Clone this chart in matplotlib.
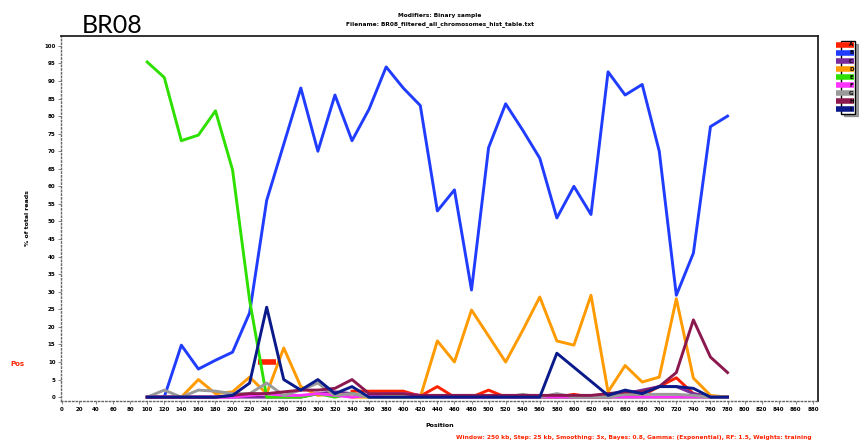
import numpy as np
import matplotlib
matplotlib.use("Agg")
import matplotlib.pyplot as plt

# bin start positions and per-bin share (%) for each track
positions = np.arange(100, 800, 20)

red = [np.nan, np.nan, np.nan, np.nan, np.nan, np.nan, np.nan, 10, np.nan, np.nan,
       np.nan, np.nan, 1.7, 1.7, 1.7, 1.7, 0.3, 3, 0, 0,
       2, 0, 0, 0, 0, 0.8, 0, 0, 0.5, 0.5,
       3, 5.5, 1, 0, 0]
blue = [0, 0, 14.8, 8, 10.5, 12.8, 24, 56, 72, 88,
        70, 86, 73, 82, 94, 88, 83, 53, 59, 30.5,
        71, 83.5, 76, 68, 51, 60, 52, 92.6, 86, 89,
        70, 29, 41, 77, 80]
purple = [0, 0, 0, 0, 0, 0, 0, 0, 0, 0,
          1, 1.5, 1, 0, 0, 0, 0, 0, 0, 0,
          0, 0, 0, 0, 0, 0, 0, 0, 1, 2,
          3, 3, 1, 0, 0]
orange = [0, 0, 0, 5, 1, 1.5, 5.7, 1, 14, 3,
          0.5, 1, 0, 0, 0, 0, 0, 16, 10, 24.8,
          17.4, 10, 19, 28.5, 16, 14.8, 29, 1.5, 9, 4.3,
          5.7, 28, 5.4, 0.5, 0]
green = [95.4, 91, 73, 74.6, 81.5, 64.7, 27.6, 0, 0, 0,
         1, 0, 1, 0, 0, 0, 0, 0, 0, 0,
         0, 0, 0, 0, 0, 0, 0, 0, 0, 0,
         0, 0, 0, 0, 0]
magenta = [0, 0, 0, 0, 0, 0, 0.5, 1, 0.5, 0.5,
           1, 0.5, 0, 0.5, 1, 1, 0.5, 0, 0, 0,
           0, 0, 0, 0, 0, 0, 0, 0, 0, 0,
           0, 0, 0, 0, 0]
gray = [0, 2, 0, 2, 1.7, 1, 1, 4, 0.5, 2,
        4, 0.5, 1, 0, 0, 0, 0, 0, 0, 0.5,
        0, 0, 0.8, 0, 1, 0, 0, 0, 0.8, 0.8,
        0.8, 0.8, 0.5, 0, 0]
maroon = [0, 0, 0, 0, 0, 0.5, 1, 1, 1.5, 2,
          2, 2.5, 5, 1, 1, 1, 0.5, 0.5, 0.5, 0.5,
          0.5, 0.5, 0.5, 0.5, 0.5, 0.5, 0.5, 1, 1.5, 1.5,
          3, 7, 22, 11.4, 7]
navy = [0, 0, 0, 0, 0, 0.5, 4, 25.6, 5, 2,
        5, 1, 3, 0, 0, 0, 0, 0, 0, 0,
        0, 0, 0, 0, 12.5, 8.5, 4.5, 0.5, 2, 1,
        3, 3, 2.5, 0, 0]

track_names = ["A", "B", "C", "D", "E", "F", "G", "H", "I"]
tracks = [red, blue, purple, orange, green, magenta, gray, maroon, navy]
colors = ["#ff2200", "#1f3cff", "#7a2a9a", "#ff9a00", "#2ee000",
          "#ff33ff", "#9a9a9a", "#8c1850", "#0a1a8a"]

fig = plt.figure(figsize=(8.59, 4.45), dpi=100)
ax = fig.add_axes([61 / 859, 1 - 401 / 445, 757 / 859, 365 / 445])

handles = []
for name, vals, c in zip(track_names, tracks, colors):
    vals = np.asarray(vals, dtype=float)
    # isolated bins (no neighbours) get a short dash so they still show
    lone = [i for i in range(len(vals)) if not np.isnan(vals[i])
            and (i == 0 or np.isnan(vals[i - 1]))
            and (i == len(vals) - 1 or np.isnan(vals[i + 1]))]
    h, = ax.plot(positions, vals, color=c, lw=2.1, marker="_", markersize=13,
                 markeredgewidth=4, markevery=lone if lone else [], label=name)
    handles.append(h)

ax.set_xlim(-1, 886)
ax.set_ylim(-1.1, 102.8)
ax.set_xticks(np.arange(0, 881, 20))
ax.set_yticks(np.arange(0, 101, 5))
ax.tick_params(axis="both", labelsize=4, length=2, width=0.6, color="#777777", pad=2)
for lab in ax.get_xticklabels() + ax.get_yticklabels():
    lab.set_fontweight("bold")

for side in ("left", "bottom"):
    ax.spines[side].set_linestyle(":")
    ax.spines[side].set_color("#666666")
    ax.spines[side].set_linewidth(1.0)
for side in ("top", "right"):
    ax.spines[side].set_color("#222222")
    ax.spines[side].set_linewidth(1.3)

ax.set_xlabel("Position", fontsize=4.5, fontweight="bold", labelpad=8)
ax.set_ylabel("% of total reads", fontsize=4.5, fontweight="bold", labelpad=10)

fig.text(82 / 859, 1 - 33 / 445, "BR08", fontsize=18, family="Lato")
fig.text(0.512, 1 - 15 / 445, "Modifiers: Binary sample", fontsize=4.2,
         fontweight="bold", ha="center", va="center")
fig.text(0.512, 1 - 24 / 445,
         "Filename: BR08_filtered_all_chromosomes_hist_table.txt",
         fontsize=4.2, fontweight="bold", ha="center", va="center")
fig.text(10 / 859, 1 - 364 / 445, "Pos", fontsize=5, fontweight="bold",
         color="#ff2200", va="center")
fig.text(634 / 859, 1 - 438 / 445,
         "Window: 250 kb, Step: 25 kb, Smoothing: 3x, Bayes: 0.8, Gamma: (Exponential), RF: 1.5, Weights: training",
         fontsize=4.2, fontweight="bold", color="#ff2200", ha="center", va="center")

leg = fig.legend(handles=handles, loc="upper left",
                 bbox_to_anchor=(838 / 859, 1 - 38 / 445), fontsize=4,
                 handlelength=0.9, handletextpad=0.3, labelspacing=0.55,
                 borderpad=0.3, frameon=True, fancybox=False, shadow=True)
leg.get_frame().set_edgecolor("black")
leg.get_frame().set_linewidth(1.0)
for t in leg.get_texts():
    t.set_fontweight("bold")

fig.savefig("out.png", dpi=100)
